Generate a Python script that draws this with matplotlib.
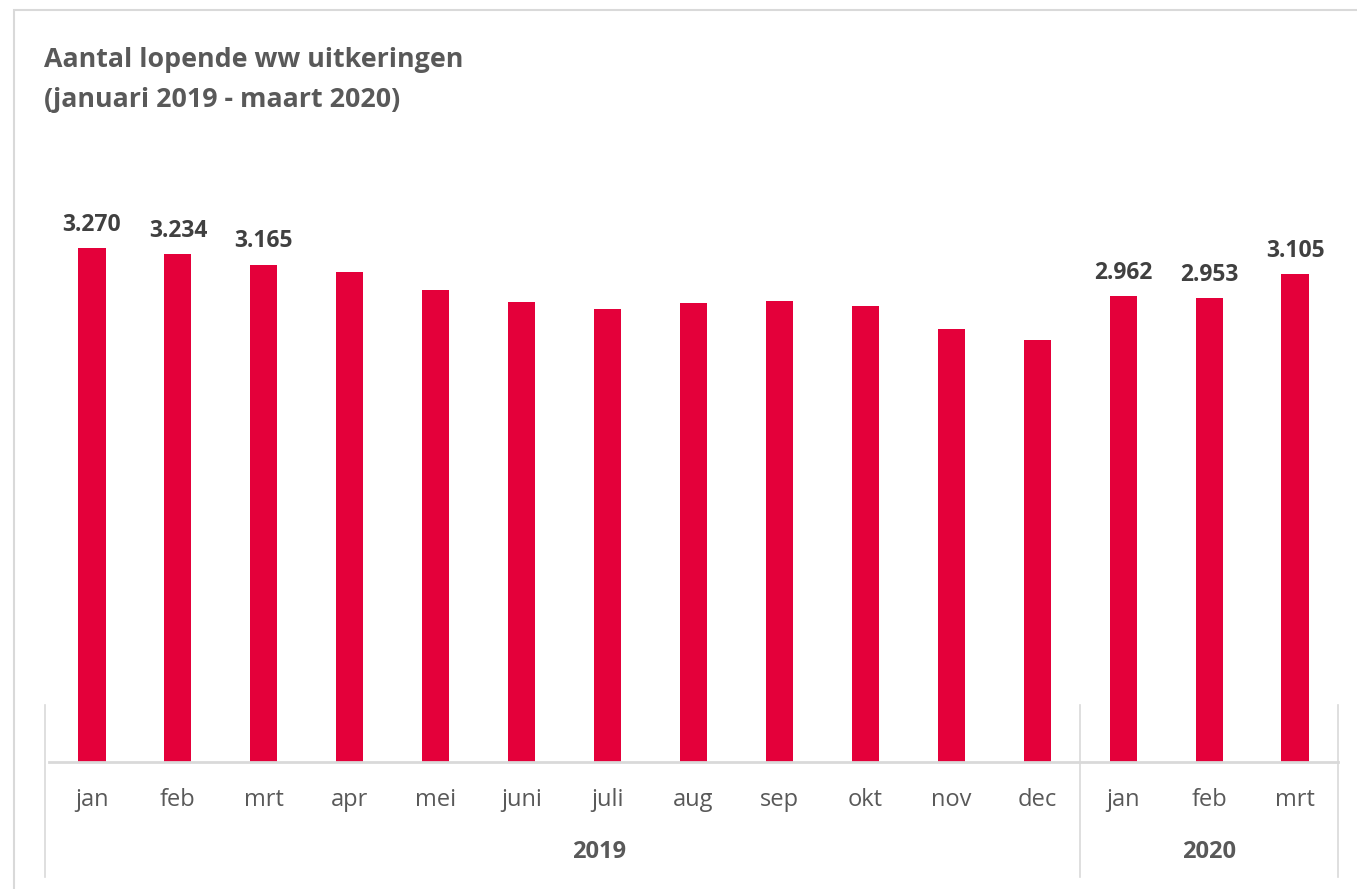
import matplotlib.pyplot as plt
from matplotlib.patches import Rectangle
import matplotlib.transforms as mtransforms

# data
maanden = ['jan', 'feb', 'mrt', 'apr', 'mei', 'juni', 'juli', 'aug', 'sep',
           'okt', 'nov', 'dec', 'jan', 'feb', 'mrt']
waarden = [3270, 3234, 3165, 3117, 3003, 2926, 2882, 2920, 2933,
           2901, 2755, 2685, 2962, 2953, 3105]
labels = ['3.270', '3.234', '3.165', '', '', '', '', '', '',
          '', '', '', '2.962', '2.953', '3.105']
jaren = ['2019', '2020']

rood = '#E4003A'
grijs_tekst = '#595959'
donker = '#404040'
lijn = '#D9D9D9'

plt.rcParams['font.family'] = ['Open Sans', 'DejaVu Sans']

W, H = 1357, 889
fig = plt.figure(figsize=(W / 100, H / 100), dpi=100)

# outer chart border (bottom/right run off the picture)
fig.patches.append(Rectangle((14 / W, -0.1), 1.0, 1.1 - 10 / H, transform=fig.transFigure,
                             fill=False, edgecolor=lijn, linewidth=1.5))

ax_left, ax_right = 49 / W, 1338 / W
ax_bottom = 1 - 762 / H
ax_top_px = 140
ax = fig.add_axes([ax_left, ax_bottom, ax_right - ax_left, (762 - ax_top_px) / H])

x = list(range(len(waarden)))
ax.bar(x, waarden, width=0.315, color=rood, zorder=2)
ax.set_xlim(-0.5, len(waarden) - 0.5)
ax.set_ylim(0, 3270 * (762 - ax_top_px) / 514)

for xi, v, lab in zip(x, waarden, labels):
    if lab:
        ax.annotate(lab, (xi, v), xytext=(0, 8), textcoords='offset points',
                    ha='center', va='bottom', fontsize=16.5, fontweight='bold',
                    color=donker)

for s in ['top', 'right', 'left']:
    ax.spines[s].set_visible(False)
ax.spines['bottom'].set_color(lijn)
ax.spines['bottom'].set_linewidth(2)
ax.set_yticks([])
ax.set_xticks([])

# month labels and year labels
trans = mtransforms.blended_transform_factory(ax.transData, fig.transFigure)
for xi, m in zip(x, maanden):
    ax.text(xi, 1 - 800 / H, m, transform=trans, ha='center', va='center',
            fontsize=17, color=grijs_tekst)
for jaar, xp in zip(jaren, [5.9, 13.0]):
    ax.text(xp, 1 - 852 / H, jaar, transform=trans, ha='center',
            va='center', fontsize=17, fontweight='bold', color=grijs_tekst)

# group separators
for x0 in [-0.55, 11.5, 14.5]:
    ax.plot([x0, x0], [1 - 705 / H, 1 - 877 / H], transform=trans,
            color=lijn, linewidth=1.2, clip_on=False)

fig.text(44 / W, 1 - 60 / H, 'Aantal lopende ww uitkeringen',
         fontsize=19.3, fontweight='bold', color=grijs_tekst, va='center')
fig.text(44 / W, 1 - 100 / H, '(januari 2019 - maart 2020)',
         fontsize=19.3, fontweight='bold', color=grijs_tekst, va='center')

fig.savefig('out.png', dpi=100)
